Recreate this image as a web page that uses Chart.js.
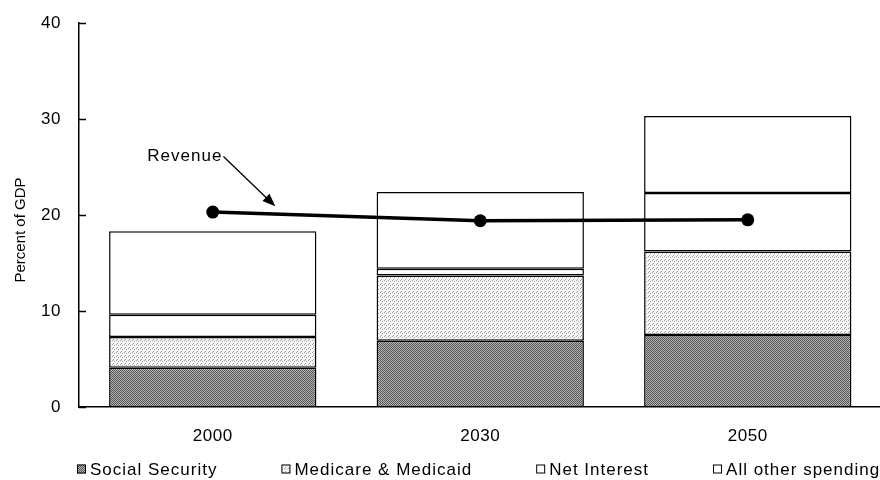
<!DOCTYPE html>
<html>
<head>
<meta charset="utf-8">
<script src="https://cdn.jsdelivr.net/npm/chart.js@4.4.0/dist/chart.umd.min.js"></script>
<style>
  html, body { margin: 0; padding: 0; background: #fff; overflow: hidden; }
  #wrap { width: 880px; height: 480px; overflow: hidden; }
  canvas { display: block; }
</style>
</head>
<body>
<div id="wrap"><canvas id="budget" width="888" height="480"></canvas></div>
<script>
'use strict';

// ---- data (percent of GDP) ----
const YEARS             = ['2000', '2030', '2050'];
const SOCIAL_SECURITY   = [4.1, 6.9, 7.5];
const MEDICARE_MEDICAID = [3.2, 6.8, 8.7];
const NET_INTEREST      = [2.3, 0.7, 6.1];
const ALL_OTHER         = [8.7, 8.0, 8.0];
const REVENUE           = [20.3, 19.4, 19.5];
const Y_TICKS           = [0, 10, 20, 30, 40];

const FONT = '"Liberation Sans", Arial, sans-serif';
const INK  = '#000';
const TRACKING = '1px';

// halftone-ish fills like the printed original
function makePattern(size, bg, dots, dotColor) {
  const c = document.createElement('canvas');
  c.width = c.height = size;
  const g = c.getContext('2d');
  g.fillStyle = bg;
  g.fillRect(0, 0, size, size);
  g.fillStyle = dotColor;
  dots.forEach(([x, y]) => g.fillRect(x, y, 1, 1));
  return g.createPattern(c, 'repeat');
}

const ssFill  = makePattern(2, '#b4b4b4', [[0, 0], [1, 1]], '#555555');
const medFill = makePattern(4, '#f6f6f6', [[0, 0], [2, 1], [1, 3]], '#a0a0a0');

// Revenue callout, in data units (x = category index)
const NOTE = { text: 'Revenue', at: [0.036, 25.6], from: [0.04, 26.1], to: [0.234, 20.9] };

const spacing = {
  id: 'spacing',
  beforeUpdate(chart) { chart.ctx.letterSpacing = '0.5px'; },
  beforeLayout(chart) { chart.ctx.letterSpacing = '0.5px'; },
  beforeDraw(chart)   { chart.ctx.letterSpacing = '0.5px'; },
};

const extras = {
  id: 'extras',
  afterDraw(chart) {
    const { ctx, chartArea, scales: { x, y } } = chart;
    ctx.save();

    // inward tick marks on the value axis
    ctx.strokeStyle = '#000';
    ctx.lineWidth = 1.5;
    Y_TICKS.forEach(v => {
      const py = Math.round(y.getPixelForValue(v)) + 0.5;
      ctx.beginPath();
      ctx.moveTo(chartArea.left, py);
      ctx.lineTo(chartArea.left + 7, py);
      ctx.stroke();
    });

    // axis title
    ctx.letterSpacing = '0px';
    ctx.fillStyle = INK;
    ctx.font = '15px ' + FONT;
    ctx.textAlign = 'center';
    ctx.textBaseline = 'middle';
    ctx.translate(chartArea.left - 58, (chartArea.top + chartArea.bottom) / 2 + 15);
    ctx.rotate(-Math.PI / 2);
    ctx.fillText('Percent of GDP', 0, 0);
    ctx.setTransform(1, 0, 0, 1, 0, 0);

    // Revenue label + arrow
    ctx.letterSpacing = TRACKING;
    ctx.font = '17px ' + FONT;
    ctx.textAlign = 'right';
    ctx.textBaseline = 'alphabetic';
    ctx.fillText(NOTE.text, x.getPixelForValue(NOTE.at[0]), y.getPixelForValue(NOTE.at[1]));
    const x0 = x.getPixelForValue(NOTE.from[0]), y0 = y.getPixelForValue(NOTE.from[1]);
    const x1 = x.getPixelForValue(NOTE.to[0]),   y1 = y.getPixelForValue(NOTE.to[1]);
    const ang = Math.atan2(y1 - y0, x1 - x0);
    ctx.lineWidth = 1.3;
    ctx.beginPath();
    ctx.moveTo(x0, y0);
    ctx.lineTo(x1 - 10 * Math.cos(ang), y1 - 10 * Math.sin(ang));
    ctx.stroke();
    ctx.fillStyle = '#000';
    ctx.beginPath();
    ctx.moveTo(x1, y1);
    ctx.lineTo(x1 - 13 * Math.cos(ang) + 5 * Math.sin(ang), y1 - 13 * Math.sin(ang) - 5 * Math.cos(ang));
    ctx.lineTo(x1 - 13 * Math.cos(ang) - 5 * Math.sin(ang), y1 - 13 * Math.sin(ang) + 5 * Math.cos(ang));
    ctx.closePath();
    ctx.fill();

    // legend row (spending series only)
    let lx = 77;
    const ly = chart.height - 11;
    ctx.font = '17px ' + FONT;
    ctx.textAlign = 'left';
    ctx.textBaseline = 'middle';
    chart.data.datasets.filter(d => d.type !== 'line').forEach(d => {
      ctx.fillStyle = d.backgroundColor;
      ctx.fillRect(lx, ly - 4.5, 9, 9);
      ctx.lineWidth = 1;
      ctx.strokeStyle = '#000';
      ctx.strokeRect(lx + 0.5, ly - 4, 8, 8);
      ctx.fillStyle = INK;
      ctx.fillText(d.label, lx + 13, ly + 1);
      lx += 13 + ctx.measureText(d.label).width + 64;
    });

    ctx.restore();
  },
};

const barCommon = {
  borderColor: '#000',
  borderWidth: 1.5,
  borderSkipped: false,
  stack: 'spending',
  order: 1,
};

new Chart(document.getElementById('budget'), {
  type: 'bar',
  data: {
    labels: YEARS,
    datasets: [
      {
        type: 'line',
        label: 'Revenue',
        data: REVENUE,
        stack: 'revenue',
        order: 0,
        borderColor: '#000',
        backgroundColor: '#000',
        borderWidth: 3.5,
        pointRadius: 6.5,
        pointBorderWidth: 0,
        pointBackgroundColor: '#000',
        tension: 0,
      },
      { ...barCommon, label: 'Social Security',     data: SOCIAL_SECURITY,   backgroundColor: ssFill },
      { ...barCommon, label: 'Medicare & Medicaid', data: MEDICARE_MEDICAID, backgroundColor: medFill },
      { ...barCommon, label: 'Net Interest',        data: NET_INTEREST,      backgroundColor: '#fff' },
      { ...barCommon, label: 'All other spending',  data: ALL_OTHER,         backgroundColor: '#fff' },
    ],
  },
  options: {
    responsive: false,
    animation: false,
    layout: { padding: { top: 23, left: 0, right: 0, bottom: 0 } },
    datasets: { bar: { barPercentage: 0.775, categoryPercentage: 1 } },
    plugins: {
      legend:  { display: false },
      tooltip: { enabled: false },
    },
    scales: {
      x: {
        stacked: true,
        grid:   { display: false, drawTicks: false },
        border: { color: '#000', width: 1.5 },
        ticks:  { color: INK, padding: 19, font: { family: FONT, size: 17 } },
        afterFit: s => { s.height = 73; },
      },
      y: {
        stacked: true,
        min: 0,
        max: 40,
        grid:   { display: false, drawTicks: false },
        border: { color: '#000', width: 1.5 },
        ticks:  { color: INK, padding: 18, font: { family: FONT, size: 17 } },
        afterBuildTicks: s => { s.ticks = Y_TICKS.map(v => ({ value: v })); },
        afterFit: s => { s.width = 79; s.paddingTop = 0; s.paddingBottom = 0; },
      },
    },
  },
  plugins: [spacing, extras],
});
</script>
</body>
</html>
